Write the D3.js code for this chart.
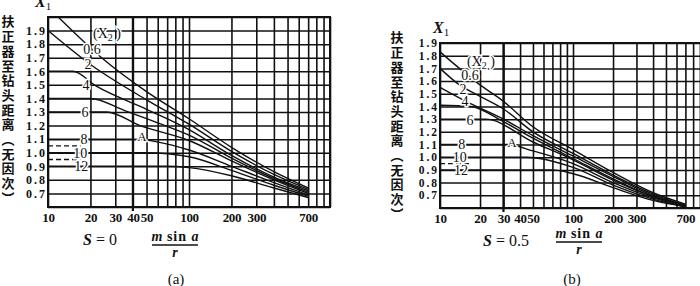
<!DOCTYPE html>
<html>
<head>
<meta charset="utf-8">
<script src="https://cdnjs.cloudflare.com/ajax/libs/d3/7.8.5/d3.min.js"></script>
<style>
body { margin: 0; background: #fff; }
svg { display: block; }
</style>
</head>
<body>
<svg id="chart" width="700" height="286"></svg>
<script>
// grid and tick values (x is log, y is linear)
var gridX = [10, 20, 30, 40, 50, 60, 70, 80, 90, 100, 200, 300, 400, 500, 600, 700, 800, 900, 1000];
var xLabels = [10, 20, 30, 40, 50, 100, 200, 300, 700];
var yLabels = [1.9, 1.8, 1.7, 1.6, 1.5, 1.4, 1.3, 1.2, 1.1, 1.0, 0.9, 0.8, 0.7];
var gridYA = [0.6, 0.7, 0.8, 0.9, 1.0, 1.1, 1.2, 1.3, 1.4, 1.5, 1.6, 1.7, 1.8, 1.9, 2.0];
var gridYB = [0.6, 0.7, 0.8, 0.9, 1.0, 1.1, 1.2, 1.3, 1.4, 1.5, 1.6, 1.7, 1.8, 1.9];
var yTitle = "扶正器至钻头距离（无因次）";

// panel (a), S = 0 : curves for X2 = 0.6, 2, 4, (unlabelled), 6, 8, 10, 12
var a06 = [[11.8, 2.0], [24, 1.70], [50, 1.45], [100, 1.25], [200, 1.04], [400, 0.86], [700, 0.74]];
var a2  = [[10, 1.9], [20, 1.65], [50, 1.39], [100, 1.21], [200, 1.01], [400, 0.84], [700, 0.73]];
var a4  = [[10, 1.6], [15, 1.6], [22, 1.49], [50, 1.32], [100, 1.17], [200, 0.98], [400, 0.82], [700, 0.72]];
var a5  = [[10, 1.4], [20, 1.4], [35, 1.31], [60, 1.22], [100, 1.13], [200, 0.96], [400, 0.81], [700, 0.71]];
var a6  = [[10, 1.3], [26, 1.3], [45, 1.2], [100, 1.09], [200, 0.94], [400, 0.8], [700, 0.70]];
var a8  = [[10, 1.1], [40, 1.1], [100, 1.02], [200, 0.9], [400, 0.78], [700, 0.69]];
var a10 = [[10, 1.0], [50, 1.0], [100, 0.97], [200, 0.87], [400, 0.76], [700, 0.68]];
var a12 = [[10, 0.9], [70, 0.9], [100, 0.89], [200, 0.83], [400, 0.74], [700, 0.67]];
var aDash = [[[10, 1.05], [17, 1.05]], [[10, 0.95], [17, 0.95]]];
var aNames = ["0.6", "2", "4", "6", "8", "10", "12"];
var aNamePos = [[20.5, 1.76], [19.2, 1.65], [18.6, 1.5], [18.3, 1.3], [18, 1.1], [16.9, 1.0], [17.2, 0.9]];

// panel (b), S = 0.5
var b06 = [[10, 1.83], [14, 1.70], [20, 1.57], [30, 1.44], [50, 1.24], [100, 1.06], [200, 0.88], [400, 0.72], [700, 0.63]];
var b2  = [[10, 1.70], [14, 1.57], [20, 1.48], [30, 1.38], [50, 1.2], [100, 1.03], [200, 0.86], [400, 0.71], [700, 0.62]];
var b4  = [[10, 1.55], [15, 1.45], [30, 1.3], [50, 1.17], [100, 1.01], [200, 0.85], [400, 0.70], [700, 0.62]];
var b5  = [[10, 1.41], [17, 1.4], [30, 1.28], [50, 1.15], [100, 0.99], [200, 0.83], [400, 0.69], [700, 0.62]];
var b6  = [[10, 1.3], [22, 1.3], [50, 1.12], [100, 0.98], [200, 0.82], [400, 0.69], [700, 0.62]];
var b8  = [[10, 1.1], [32, 1.1], [50, 1.05], [100, 0.95], [200, 0.8], [400, 0.68], [700, 0.61]];
var b10 = [[10, 1.0], [45, 1.0], [100, 0.92], [200, 0.78], [400, 0.67], [700, 0.61]];
var b12 = [[10, 0.9], [70, 0.9], [100, 0.87], [200, 0.76], [400, 0.66], [700, 0.61]];
var bDash = [[[10, 0.95], [17, 0.95]]];
var bNames = ["0.6", "2", "4", "6", "8", "10", "12"];
var bNamePos = [[16.8, 1.65], [14.9, 1.54], [15.4, 1.44], [16.8, 1.29], [14.6, 1.1], [14.1, 1.0], [14.4, 0.9]];

var svg = d3.select("#chart");
var ink = "#111";

function drawPanel(p) {
    var g = svg.append("g");
    var x = d3.scaleLog().domain([10, 1000]).range([p.left, p.right]);
    var y = d3.scaleLinear().domain([0.6, p.ymax]).range([p.bottom, p.top]);
    var h = p.bottom - p.top, w = p.right - p.left;

    // vertical grid
    g.append("g")
        .attr("transform", "translate(0," + p.bottom + ")")
        .call(d3.axisBottom(x).tickValues(gridX).tickSize(h).tickFormat(""))
        .call(function(s) { s.select(".domain").remove(); })
        .selectAll("line")
        .attr("y2", -h)
        .attr("stroke", ink).attr("stroke-width", 1.6);

    // horizontal grid
    g.append("g")
        .attr("transform", "translate(" + p.left + ",0)")
        .call(d3.axisLeft(y).tickValues(p.gridY).tickSize(-w).tickFormat(""))
        .call(function(s) { s.select(".domain").remove(); })
        .selectAll("line")
        .attr("stroke", ink).attr("stroke-width", 1.5);

    // frame
    g.append("rect")
        .attr("x", p.left).attr("y", p.top).attr("width", w).attr("height", h)
        .attr("fill", "none").attr("stroke", ink).attr("stroke-width", 2);

    // marker line through point A
    g.append("line")
        .attr("x1", x(p.markX)).attr("x2", x(p.markX))
        .attr("y1", p.top).attr("y2", p.bottom + 4)
        .attr("stroke", ink).attr("stroke-width", 2.2);

    // tick labels
    var xa = g.append("g")
        .attr("transform", "translate(0," + p.bottom + ")")
        .call(d3.axisBottom(x).tickValues(xLabels).tickSize(0).tickPadding(6).tickFormat(d3.format("d")));
    xa.select(".domain").remove();
    xa.selectAll("text").attr("font-family", "Liberation Serif").attr("font-size", 13)
        .attr("font-weight", "bold").attr("letter-spacing", -0.3).attr("fill", ink);

    var ya = g.append("g")
        .attr("transform", "translate(" + (p.left - 1) + ",0)")
        .call(d3.axisLeft(y).tickValues(yLabels).tickSize(0).tickPadding(0).tickFormat(d3.format(".1f")));
    ya.select(".domain").remove();
    ya.selectAll("text").attr("font-family", "Liberation Serif").attr("font-size", p.yFont)
        .attr("font-weight", "bold").attr("letter-spacing", 2).attr("fill", ink);

    // curves
    var line = d3.line().x(function(d) { return x(d[0]); }).y(function(d) { return y(d[1]); })
        .curve(d3.curveMonotoneX);
    g.selectAll("path.curve").data(p.curves).enter().append("path")
        .attr("class", "curve")
        .attr("d", line)
        .attr("fill", "none").attr("stroke", ink).attr("stroke-width", 1.4);
    g.selectAll("path.dash").data(p.dashes).enter().append("path")
        .attr("class", "dash")
        .attr("d", line)
        .attr("fill", "none").attr("stroke", ink).attr("stroke-width", 1.3)
        .attr("stroke-dasharray", "5,3");

    // curve labels, with a white gap behind them
    g.selectAll("text.lab").data(p.names).enter().append("text")
        .attr("class", "lab")
        .attr("x", function(d, i) { return x(p.namePos[i][0]); })
        .attr("y", function(d, i) { return y(p.namePos[i][1]); })
        .attr("dy", "0.35em")
        .attr("text-anchor", "middle")
        .attr("font-family", "Liberation Serif").attr("font-size", 14)
        .attr("fill", ink)
        .attr("stroke", "#fff").attr("stroke-width", 3).attr("paint-order", "stroke")
        .text(function(d) { return d; });

    var x2 = g.append("text")
        .attr("x", x(p.x2Pos[0])).attr("y", y(p.x2Pos[1])).attr("dy", "0.35em")
        .attr("text-anchor", "middle")
        .attr("font-family", "Liberation Serif").attr("font-size", 14).attr("fill", ink)
        .attr("stroke", "#fff").attr("stroke-width", 3).attr("paint-order", "stroke");
    x2.append("tspan").text("(X");
    x2.append("tspan").attr("font-size", 10).attr("dy", 3).text("2");
    x2.append("tspan").attr("dy", -3).text(" )");

    g.append("text")
        .attr("x", x(p.aPos[0])).attr("y", y(p.aPos[1])).attr("dy", "0.35em")
        .attr("text-anchor", "middle")
        .attr("font-family", "Liberation Serif").attr("font-size", 13).attr("fill", ink)
        .attr("stroke", "#fff").attr("stroke-width", 2.5).attr("paint-order", "stroke")
        .text("A");

    // vertical axis title, one text set top to bottom
    g.append("text")
        .attr("x", p.titleX).attr("y", p.titleY)
        .attr("writing-mode", "vertical-rl")
        .attr("font-family", "Noto Sans CJK SC").attr("font-weight", "bold").attr("font-size", 13)
        .attr("letter-spacing", p.titleGap)
        .attr("fill", ink)
        .text(yTitle);

    // X1 at top of the axis
    var x1 = g.append("text")
        .attr("x", p.x1[0]).attr("y", p.x1[1])
        .attr("font-family", "Liberation Serif").attr("font-size", 16).attr("fill", ink);
    x1.append("tspan").attr("font-style", "italic").attr("font-weight", "bold").text("X");
    x1.append("tspan").attr("font-size", 11).attr("dy", 3).text("1");

    // S value
    var s = g.append("text")
        .attr("x", p.sPos[0]).attr("y", p.sPos[1])
        .attr("font-family", "Liberation Serif").attr("font-size", 16).attr("fill", ink);
    s.append("tspan").attr("font-style", "italic").attr("font-weight", "bold").text("S");
    s.append("tspan").text(" = " + p.sVal);

    // fraction m sin a / r
    var fx = p.frac[0], fy = p.frac[1];
    var num = g.append("text")
        .attr("x", fx).attr("y", fy).attr("text-anchor", "middle")
        .attr("font-family", "Liberation Serif").attr("font-size", 14).attr("font-weight", "bold").attr("fill", ink);
    num.append("tspan").attr("font-style", "italic").text("m");
    num.append("tspan").attr("letter-spacing", 1).text(" sin ");
    num.append("tspan").attr("font-style", "italic").text("a");
    g.append("line")
        .attr("x1", fx - 23).attr("x2", fx + 23).attr("y1", fy + 4).attr("y2", fy + 4)
        .attr("stroke", ink).attr("stroke-width", 1.3);
    g.append("text")
        .attr("x", fx).attr("y", fy + 16).attr("text-anchor", "middle")
        .attr("font-family", "Liberation Serif").attr("font-size", 14).attr("font-style", "italic")
        .attr("font-weight", "bold").attr("fill", ink)
        .text("r");

    g.append("text")
        .attr("x", p.cap[0]).attr("y", p.cap[1]).attr("text-anchor", "middle")
        .attr("font-family", "Liberation Serif").attr("font-size", 15).attr("fill", ink)
        .text(p.capText);
}

drawPanel({
    left: 48, right: 330, top: 17, bottom: 207, ymax: 2.0, gridY: gridYA, yFont: 12,
    curves: [a06, a2, a4, a5, a6, a8, a10, a12], dashes: aDash,
    names: aNames, namePos: aNamePos, x2Pos: [26.2, 1.88], aPos: [46.4, 1.12], markX: 40,
    titleX: 8, titleY: 15, titleGap: 1.7, x1: [35, 7],
    sPos: [83, 245], sVal: "0", frac: [175, 241], cap: [176, 284], capText: "(a)"
});

drawPanel({
    left: 440, right: 706, top: 43, bottom: 208, ymax: 1.9, gridY: gridYB, yFont: 11.5,
    curves: [b06, b2, b4, b5, b6, b8, b10, b12], dashes: bDash,
    names: bNames, namePos: bNamePos, x2Pos: [20.3, 1.76], aPos: [34.8, 1.12], markX: 30,
    titleX: 397, titleY: 31, titleGap: 1.7, x1: [433, 33],
    sPos: [483, 246], sVal: "0.5", frac: [579, 238], cap: [572, 284], capText: "(b)"
});
</script>
</body>
</html>
